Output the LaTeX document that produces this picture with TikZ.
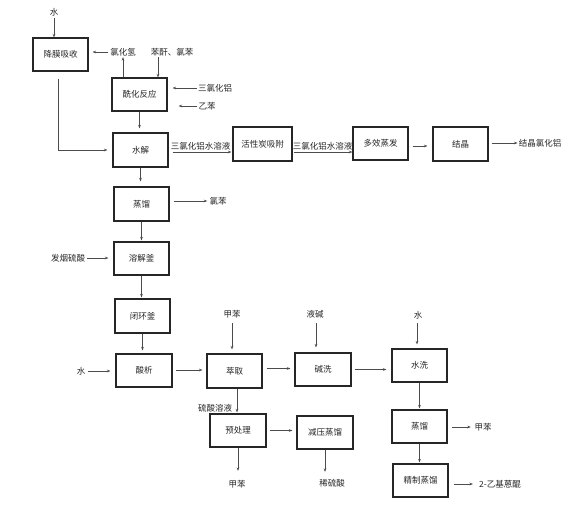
\documentclass[tikz,border=0pt]{standalone}
\usepackage{fontspec}
\setmainfont{Noto Sans CJK SC}
\usetikzlibrary{arrows.meta}
\begin{document}
\begin{tikzpicture}[x=1pt,y=-1pt,
  every node/.style={font=\fontsize{8.5pt}{10pt}\selectfont, text=black!85},
  box/.style={draw=black!85, line width=1.1pt, minimum width=55pt, minimum height=33pt, inner sep=1pt},
  lab/.style={inner sep=1pt},
  arr/.style={draw=black!70, line width=0.6pt, -{Stealth[length=3.5pt,width=2.6pt]}}
]
\useasboundingbox (0,0) rectangle (580,509);
% boxes
\node[box] (b1) at (60.5,54.5) {降膜吸收};
\node[box] (b2) at (139.5,94.5) {酰化反应};
\node[box, minimum height=34pt] (b3) at (140.5,150) {水解};
\node[box, minimum width=59pt, minimum height=34pt] (b4) at (262.5,144) {活性炭吸附};
\node[box] (b5) at (380.5,143.5) {多效蒸发};
\node[box, minimum height=34pt] (b6) at (460.5,144) {结晶};
\node[box, minimum height=34pt] (b7) at (141.5,204) {蒸馏};
\node[box] (b8) at (141.5,258.5) {溶解釜};
\node[box, minimum height=34pt] (b9) at (142.5,316) {闭环釜};
\node[box, minimum width=56pt] (b10) at (144,370.5) {酸析};
\node[box, minimum height=34pt] (b11) at (234.5,371) {萃取};
\node[box, minimum width=56pt] (b12) at (323,369.5) {碱洗};
\node[box] (b13) at (419.5,365.5) {水洗};
\node[box, minimum width=56pt] (b14) at (238,430.5) {预处理};
\node[box, minimum width=56pt] (b15) at (325,432.5) {减压蒸馏};
\node[box] (b16) at (419.5,426.5) {蒸馏};
\node[box] (b17) at (420.5,480.5) {精制蒸馏};
% labels
\node[lab] (l1) at (54,12) {水};
\node[lab] (l2) at (123,52) {氯化氢};
\node[lab] (l3) at (172,52) {苯酐、氯苯};
\node[lab] (l4) at (215,88) {三氯化铝};
\node[lab] (l5) at (207,106) {乙苯};
\node[lab] (l6) at (540,143) {结晶氯化铝};
\node[lab] (l7) at (218,201) {氯苯};
\node[lab] (l8) at (68,258) {发烟硫酸};
\node[lab] (l9) at (81,371) {水};
\node[lab] (l10) at (232,314) {甲苯};
\node[lab] (l11) at (315,314) {液碱};
\node[lab] (l12) at (418,315) {水};
\node[lab] (l13) at (237,484) {甲苯};
\node[lab] (l14) at (332,483) {稀硫酸};
\node[lab] (l15) at (483,427) {甲苯};
\node[lab] (l16) at (500,484) {2-乙基蒽醌};
\node[lab] (l17) at (215,408) {硫酸溶液};
% connectors
\draw[arr, shorten <=1pt] (l1.south) -- (l1.south |- b1.north);
\draw[arr, shorten <=1.5pt, shorten >=4pt] (l2.west) -- (l2.west -| b1.east);
\draw[arr] (b2.north -| l2.south) -- (l2.south);
\draw[arr] ([xshift=-14pt]l3.south) -- ([xshift=-14pt]l3.south |- b2.north);
\draw[arr, shorten >=5pt] (l4.west) -- (l4.west -| b2.east);
\draw[arr, shorten >=11pt] (l5.west) -- (l5.west -| b2.east);
\draw[arr, shorten >=4pt] (b2.south) -- (b2.south |- b3.north);
\draw[arr, shorten <=7pt, shorten >=5pt] ([xshift=-2.5pt]b1.south) |- (b3.west);
\draw[arr, shorten <=4pt, shorten >=1pt] ([yshift=-8pt]b4.west -| b3.east) -- node[lab, above=1pt] (t1) {三氯化铝水溶液} ([yshift=-8pt]b4.west);
\draw[arr, shorten <=1pt] ([yshift=-8pt]b4.east) -- node[lab, above=1pt] (t2) {三氯化铝水溶液} ([yshift=-8pt]b4.east -| b5.west);
\draw[arr, shorten <=4pt, shorten >=5pt] ([yshift=-2.5pt]b5.east) -- ([yshift=-2.5pt]b5.east -| b6.west);
\draw[arr, shorten <=3pt] (l6.west -| b6.east) -- (l6.west);
\draw[arr, shorten >=5pt] (b3.south) -- (b3.south |- b7.north);
\draw[arr, shorten <=4pt, shorten >=1pt] (l7.west -| b7.east) -- (l7.west);
\draw[arr, shorten >=1pt] (b7.south) -- (b7.south |- b8.north);
\draw[arr, shorten <=1pt, shorten >=5pt] (l8.east) -- (l8.east -| b8.west);
\draw[arr, shorten >=1pt] (b8.south) -- (b8.south |- b9.north);
\draw[arr, shorten >=3pt] (b9.south) -- (b9.south |- b10.north);
\draw[arr, shorten <=2pt, shorten >=5pt] (l9.east) -- (l9.east -| b10.west);
\draw[arr, shorten <=3pt, shorten >=4pt] ([yshift=0.5pt]b10.east) -- ([yshift=0.5pt]b10.east -| b11.west);
\draw[arr, shorten <=4pt, shorten >=4pt] (l10.south) -- (l10.south |- b11.north);
\draw[arr, shorten <=4pt, shorten >=4pt] ([yshift=2.5pt]b11.east) -- ([yshift=2.5pt]b11.east -| b12.west);
\draw[arr, shorten <=4pt, shorten >=5pt] ([xshift=1pt]l11.south) -- ([xshift=1pt]l11.south |- b12.north);
\draw[arr, shorten <=3pt, shorten >=5pt] (b12.east) -- (b12.east -| b13.west);
\draw[arr, shorten <=3pt, shorten >=4pt] ([xshift=-1pt]l12.south) -- ([xshift=-1pt]l12.south |- b13.north);
\draw[arr, shorten >=1pt] ([xshift=2.5pt]b11.south) -- ([xshift=2.5pt]b11.south |- b14.north);
\draw[arr, shorten >=8pt] (b14.south) -- (b14.south |- l13.north);
\draw[arr, shorten <=3pt, shorten >=4pt] (b14.east) -- (b14.east -| b15.west);
\draw[arr, shorten >=6pt] (b15.south) -- (b15.south |- l14.north);
\draw[arr, shorten >=1pt] (b13.south) -- (b13.south |- b16.north);
\draw[arr, shorten <=4pt, shorten >=2.5pt] (l15.west -| b16.east) -- (l15.west);
\draw[arr, shorten >=1pt] (b16.south) -- (b16.south |- b17.north);
\draw[arr, shorten <=5pt, shorten >=5pt] (l16.west -| b17.east) -- (l16.west);
\end{tikzpicture}
\end{document}
